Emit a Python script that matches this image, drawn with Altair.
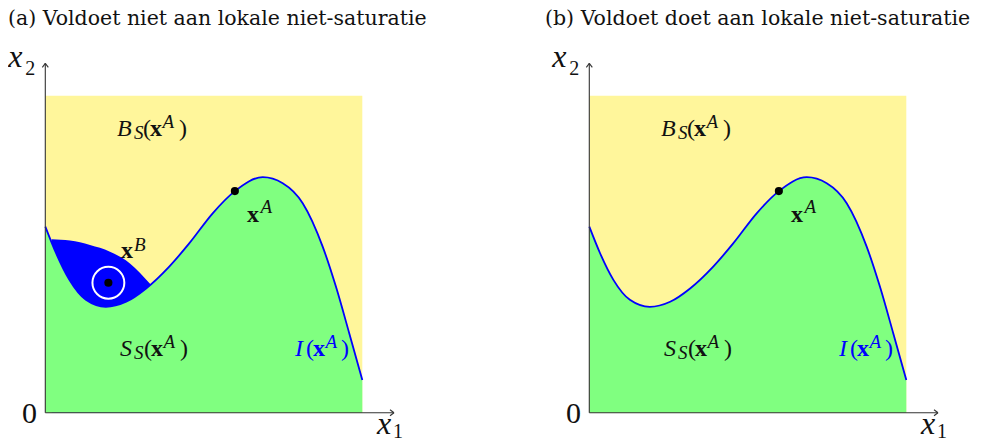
import math
import altair as alt
import pandas as pd

PX = 31.7  # pixels per data unit (square of side 10 is ~317 px)

# ---- data -----------------------------------------------------------------
# indifference curve I(x^A)
curve_x = [0.0, 0.34, 0.76, 1.28, 1.91, 2.55, 3.18, 3.91, 4.54, 5.28, 5.98,
           6.86, 7.49, 8.12, 8.75, 9.17, 9.59, 10.0]
curve_y = [5.87, 5.03, 4.19, 3.56, 3.34, 3.50, 3.92, 4.61, 5.34, 6.29, 6.99,
           7.43, 7.24, 6.61, 5.24, 3.97, 2.50, 1.03]

# upper edge of the "thick" indifference region in panel (a)
thick_x = [0.20, 0.78, 1.41, 2.04, 2.67, 3.31]
thick_y = [5.47, 5.43, 5.29, 5.08, 4.71, 4.06]

# the commodity bundles
bundle_A = (5.98, 6.99)
bundle_B = (1.99, 4.10)

# feasible square
square = (0.0, 10.0)

titles = ["(a) Voldoet niet aan lokale niet-saturatie",
          "(b) Voldoet doet aan lokale niet-saturatie"]
title_px = [8, 545]   # page column where each title starts

# ---- layout ------------------------------------------------------------------
H = 430
YMAX = (412.7 - 8) / PX
YMIN = YMAX - H / PX
W_A, W_B = 500, 440
SPACING = 32
XMIN_A = -(45.3 - 8) / PX
XMIN_B = -(589.3 - (8 + W_A + SPACING)) / PX
ORIGIN_PX = [45.3, 589.3]

BLUE = "#0000FF"
GREEN = "#80FF80"
YELLOW = "#FFF69B"
INK = "#111111"

M, m = 24, 19      # math label font sizes
L, l = 32, 20      # axis label font sizes
T = 20.5           # title font size
FONT = "Liberation Serif"
TITLE_FONT = "DejaVu Serif"


def pieces(x0, y0, parts, color=INK):
    rows = []
    for text, dx, dy, size, style in parts:
        rows.append(dict(text=text, x=x0 + dx / PX, y=y0 - dy / PX,
                         size=size, style=style, color=color))
    return rows


def text_rows(idx):
    rows = []
    rows += pieces(2.26, 8.73, [("B", 0, 0, M, "i"), ("S", 17, 3.5, m, "i"),
                                ("(", 26, 0, M, "n"), ("x", 33, 0, M, "b"),
                                ("A", 45.5, -8, m, "i"), (")", 62, 0, M, "n")])
    rows += pieces(2.36, 1.79, [("S", 0, 0, M, "i"), ("S", 14, 3.5, m, "i"),
                                ("(", 24, 0, M, "n"), ("x", 31, 0, M, "b"),
                                ("A", 43.5, -8, m, "i"), (")", 60, 0, M, "n")])
    rows += pieces(7.88, 1.79, [("I", 0, 0, M, "i"), ("(", 11, 0, M, "n"),
                                ("x", 18, 0, M, "b"), ("A", 30.5, -8, m, "i"),
                                (")", 46, 0, M, "n")], color=BLUE)
    rows += pieces(6.36, 6.02, [("x", 0, 0, M, "b"), ("A", 13.5, -9, m, "i")])
    if idx == 0:
        rows += pieces(2.39, 4.88, [("x", 0, 0, M, "b"), ("B", 13, -7, m, "i")])
    rows += pieces(-0.735, -0.32, [("0", 0, 0, L - 2, "n")])
    rows += pieces(10.46, -0.66, [("x", 0, 0, L, "i"), ("1", 16, 4, l, "n")])
    rows += pieces(-1.17, 10.915, [("x", 0, 0, L, "i"), ("2", 17, 8, l, "n")])
    return pd.DataFrame(rows)


def panel(idx, W, xmin):
    xs = alt.Scale(domain=[xmin, xmin + W / PX], nice=False, zero=False)
    ys = alt.Scale(domain=[YMIN, YMAX], nice=False, zero=False)

    def X(f):
        return alt.X(f, type="quantitative", scale=xs, axis=None)

    def Y(f):
        return alt.Y(f, type="quantitative", scale=ys, axis=None)

    curve = pd.DataFrame({"x": curve_x, "y": curve_y})
    sq = pd.DataFrame({"x": [square[0]], "x2": [square[1]],
                       "y": [square[0]], "y2": [square[1]]})

    layers = []
    layers.append(alt.Chart(sq).mark_rect(color=YELLOW).encode(
        x=X("x"), x2="x2", y=Y("y"), y2="y2"))
    if idx == 0:
        thick = pd.DataFrame({"x": thick_x, "y": thick_y})
        layers.append(alt.Chart(thick).mark_area(
            color=BLUE, interpolate="monotone", opacity=1).encode(
            x=X("x"), y=Y("y"), y2=alt.datum(0)))
    layers.append(alt.Chart(curve).mark_area(
        color=GREEN, interpolate="monotone", opacity=1).encode(
        x=X("x"), y=Y("y"), y2=alt.datum(0)))
    layers.append(alt.Chart(curve).mark_line(
        color=BLUE, strokeWidth=1.8, interpolate="monotone").encode(
        x=X("x"), y=Y("y")))

    # coordinate axes with arrow tips
    tx, ty = 11.0, 11.02
    ax = 4 / PX
    ay = 3 / PX
    segs = pd.DataFrame([
        dict(x=0, y=0, x2=tx, y2=0),
        dict(x=0, y=0, x2=0, y2=ty),
        dict(x=tx - ax, y=ay, x2=tx, y2=0),
        dict(x=tx - ax, y=-ay, x2=tx, y2=0),
        dict(x=-ay, y=ty - ax, x2=0, y2=ty),
        dict(x=ay, y=ty - ax, x2=0, y2=ty),
    ])
    layers.append(alt.Chart(segs).mark_rule(color="#333333", strokeWidth=1.1).encode(
        x=X("x"), y=Y("y"), x2="x2", y2="y2"))

    pts = [bundle_A]
    if idx == 0:
        pts.append(bundle_B)
        ring = pd.DataFrame({"x": [bundle_B[0]], "y": [bundle_B[1]]})
        layers.append(alt.Chart(ring).mark_point(
            shape="circle", filled=False, color="white", strokeWidth=2,
            size=math.pi * 18 ** 2, opacity=1).encode(x=X("x"), y=Y("y")))
    pdf = pd.DataFrame({"x": [p[0] for p in pts], "y": [p[1] for p in pts]})
    layers.append(alt.Chart(pdf).mark_point(
        shape="circle", filled=True, color="black", size=66, opacity=1).encode(
        x=X("x"), y=Y("y")))

    # panel title (baseline kept low enough that nothing pokes above the canvas)
    tdf_title = pd.DataFrame({
        "text": [titles[idx]],
        "x": [(title_px[idx] - ORIGIN_PX[idx]) / PX],
        "y": [(412.7 - (8 + 0.8 * T + 1.0)) / PX],
    })
    layers.append(alt.Chart(tdf_title).mark_text(
        align="left", baseline="alphabetic", font=TITLE_FONT, fontSize=T,
        color=INK).encode(x=X("x"), y=Y("y"), text="text:N"))

    tdf = text_rows(idx)
    styles = {"n": dict(fontStyle="normal", fontWeight="normal"),
              "i": dict(fontStyle="italic", fontWeight="normal"),
              "b": dict(fontStyle="normal", fontWeight="bold")}
    for key, st in styles.items():
        sub = tdf[tdf["style"] == key]
        if len(sub) == 0:
            continue
        layers.append(alt.Chart(sub).mark_text(
            align="left", baseline="alphabetic", font=FONT, **st).encode(
            x=X("x"), y=Y("y"), text="text:N",
            size=alt.Size("size:Q", scale=None),
            color=alt.Color("color:N", scale=None)))

    return alt.layer(*layers).properties(width=W, height=H)


chart = alt.hconcat(panel(0, W_A, XMIN_A), panel(1, W_B, XMIN_B),
                    spacing=SPACING).properties(
    padding=0, background="white").configure_view(stroke="transparent",
                                                  strokeWidth=0)

chart.save("out.html", embed_options={"renderer": "svg", "actions": False})
